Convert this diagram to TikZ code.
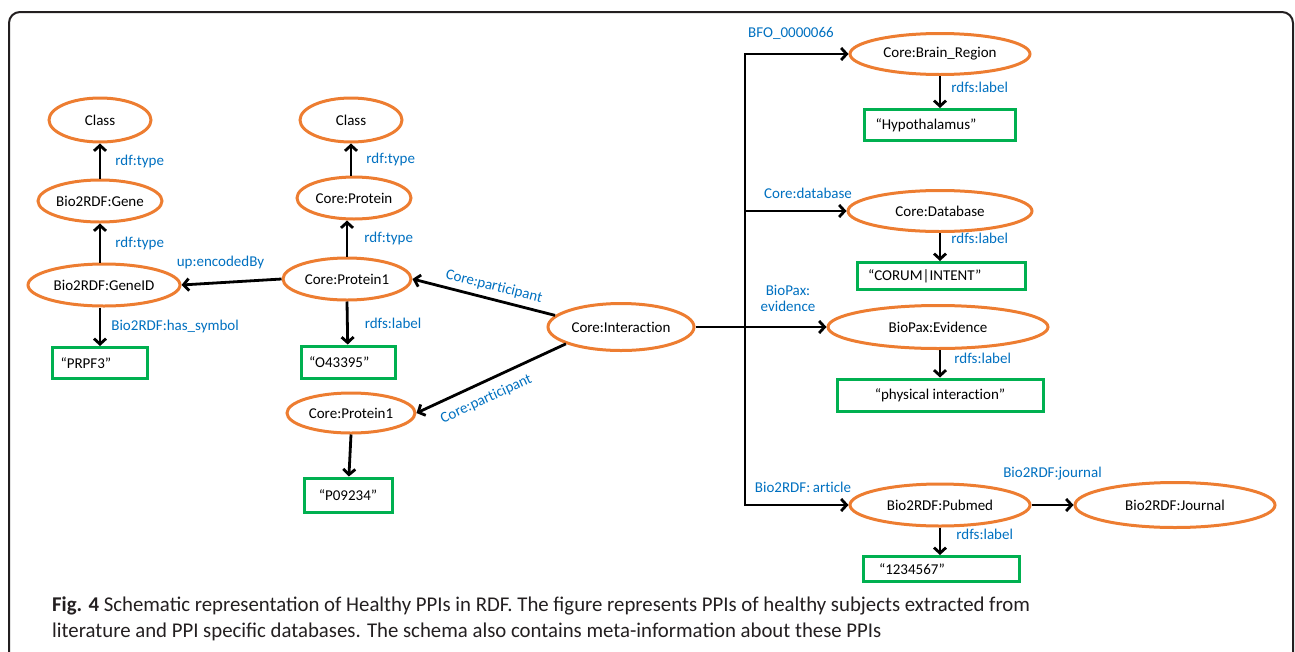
\documentclass[tikz,border=0pt]{standalone}
\usepackage{fontspec}
\setmainfont{Carlito}[Ligatures=NoCommon]
\newfontfamily\capfont[FakeStretch=0.99]{Carlito}
\usetikzlibrary{shapes.geometric,arrows.meta}
\definecolor{rdforange}{RGB}{237,125,49}
\definecolor{litgreen}{RGB}{0,176,80}
\definecolor{propblue}{RGB}{0,112,192}
\definecolor{framegray}{RGB}{35,31,32}
\tikzset{
  res/.style={ellipse, draw=rdforange, line width=3pt, inner sep=0pt,
    font=\fontsize{15}{18}\selectfont},
  lit/.style={rectangle, draw=litgreen, line width=3pt, inner sep=0pt,
    font=\fontsize{15}{18}\selectfont},
  rel/.style={draw=black, line width=2.8pt,
    -{Straight Barb[length=5.5pt,width=12pt,line width=2.8pt]}},
  seg/.style={draw=black, line width=2.8pt},
  prop/.style={text=propblue, inner sep=0pt, font=\fontsize{15}{18}\selectfont},
}
\begin{document}
\begin{tikzpicture}[x=1pt,y=-1pt]
\useasboundingbox (0,0) rectangle (1295,651);
% outer frame, open at the bottom
\draw[framegray, line width=2pt, rounded corners=11pt]
  (9,660) -- (9,12) -- (1293,12) -- (1293,660);

% gene branch
\node[res, minimum width=102pt, minimum height=44pt] (cls1) at (100,120) {Class};
\node[res, minimum width=106pt, minimum height=42pt] (gene) at (100,201) {Bio2RDF:Gene};
\node[res, minimum width=152pt, minimum height=42pt] (geneid) at (104,285) {Bio2RDF:GeneID};
\node[lit, minimum width=95pt, minimum height=31pt, text width=79pt, align=left] (prpf) at (100,363) {“PRPF3”};

% protein branch
\node[res, minimum width=102pt, minimum height=44pt] (cls2) at (351,120) {Class};
\node[res, minimum width=114pt, minimum height=42pt] (prot) at (354,198) {Core:Protein};
\node[res, minimum width=128pt, minimum height=42pt] (p1a) at (347,279) {Core:Protein1};
\node[lit, minimum width=94pt, minimum height=32pt, text width=78pt, align=left] (o43) at (348,362) {“O43395”};
\node[res, minimum width=128pt, minimum height=40pt] (p1b) at (351,413) {Core:Protein1};
\node[lit, minimum width=88pt, minimum height=34pt] (p09) at (348,495) {“P09234”};

% interaction
\node[res, minimum width=146pt, minimum height=47pt] (inter) at (621,327) {Core:Interaction};

% meta-information
\node[res, minimum width=180pt, minimum height=41pt] (brain) at (940,54) {Core:Brain\_Region};
\node[lit, minimum width=151pt, minimum height=31pt, text width=129pt, align=left] (hypo) at (940,125) {“Hypothalamus”};
\node[res, minimum width=184pt, minimum height=41pt] (db) at (940,211) {Core:Database};
\node[lit, minimum width=168pt, minimum height=27pt, text width=146pt, align=left] (corum) at (941,276) {“CORUM|INTENT”};
\node[res, minimum width=220pt, minimum height=43pt] (evid) at (938,327) {BioPax:Evidence};
\node[lit, minimum width=206pt, minimum height=32pt] (phys) at (940,395) {“physical interaction”};
\node[res, minimum width=180pt, minimum height=42pt] (pub) at (940,505) {Bio2RDF:Pubmed};
\node[lit, minimum width=156pt, minimum height=25pt, text width=136pt, align=left] (num) at (941,569) {\hspace*{6pt}“1234567”};
\node[res, minimum width=200pt, minimum height=45pt] (jour) at (1175,505) {Bio2RDF:Journal};

% gene edges
\draw[rel] (gene) -- (cls1) node[prop, midway, right=14pt] {rdf:type};
\draw[rel] (geneid.north -| gene.south) -- (gene) node[prop, midway, right=14pt] {rdf:type};
\draw[rel] (geneid.south -| gene.south) -- (prpf) node[prop, midway, right=10pt] {Bio2RDF:has\_symbol};
\draw[rel] (p1a.west) -- (geneid.east) node[prop, midway, above=12pt, xshift=-11pt] {up:encodedBy};

% protein edges
\draw[rel] (prot.north -| cls2.south) -- (cls2) node[prop, midway, right=14pt] {rdf:type};
\draw[rel] (p1a.north) -- (p1a.north |- prot.south) node[prop, midway, right=16pt] {rdf:type};
\draw[rel] (p1a.south) -- (o43) node[prop, midway, right=16pt] {rdfs:label};
\draw[rel] (p1b.south) -- (p09);
\draw[rel] (inter.170) -- (p1a.east) node[prop, pos=0.45, sloped, above=5pt] {Core:participant};
\draw[rel] (inter.197) -- (p1b.east) node[prop, pos=0.58, sloped, below=9pt] {Core:participant};

% trunk to the meta-information
\coordinate (tk) at (745,327);
\coordinate (tktop) at (745,54);
\coordinate (tkbot) at (745,505);
\draw[seg] (inter.east) -- (tk);
\draw[seg, line cap=rect] (tktop) -- (tkbot);
\draw[rel] (tktop) -- (brain.west);
\draw[rel] (tk |- db.west) -- (db.west);
\draw[rel] (tk) -- (evid.west);
\draw[rel] (tkbot) -- (pub.west);
\node[prop] (lbfo) at (791,33) {BFO\_0000066};
\node[prop] (ldb) at (808,193) {Core:database};
\node[prop, align=center] (lev) at (788,298) {BioPax:\\[-2pt]evidence};
\node[prop] (lart) at (803,487) {Bio2RDF:\,article};

\draw[rel] (brain) -- (hypo) node[prop, pos=0.35, right=10pt] {rdfs:label};
\draw[rel] (db) -- (corum.north -| db.south) node[prop, pos=0.2, right=10pt] {rdfs:label};
\draw[rel] (evid.south -| phys.north) -- (phys) node[prop, pos=0.3, right=13pt] {rdfs:label};
\draw[rel] (pub) -- (num.north -| pub.south) node[prop, pos=0.25, right=15pt] {rdfs:label};
\draw[rel] (pub) -- (jour) node[prop, midway, above=24pt] {Bio2RDF:journal};

% caption
\node[anchor=north west, inner sep=0pt, text=framegray, align=left,
  font=\capfont\fontsize{21}{25.5}\selectfont] (cap) at (52,597)
  {\textbf{Fig. 4} Schematic representation of Healthy PPIs in RDF. The figure represents PPIs of healthy subjects extracted from\\
   literature and PPI specific databases. The schema also contains meta-information about these PPIs};
\end{tikzpicture}
\end{document}
